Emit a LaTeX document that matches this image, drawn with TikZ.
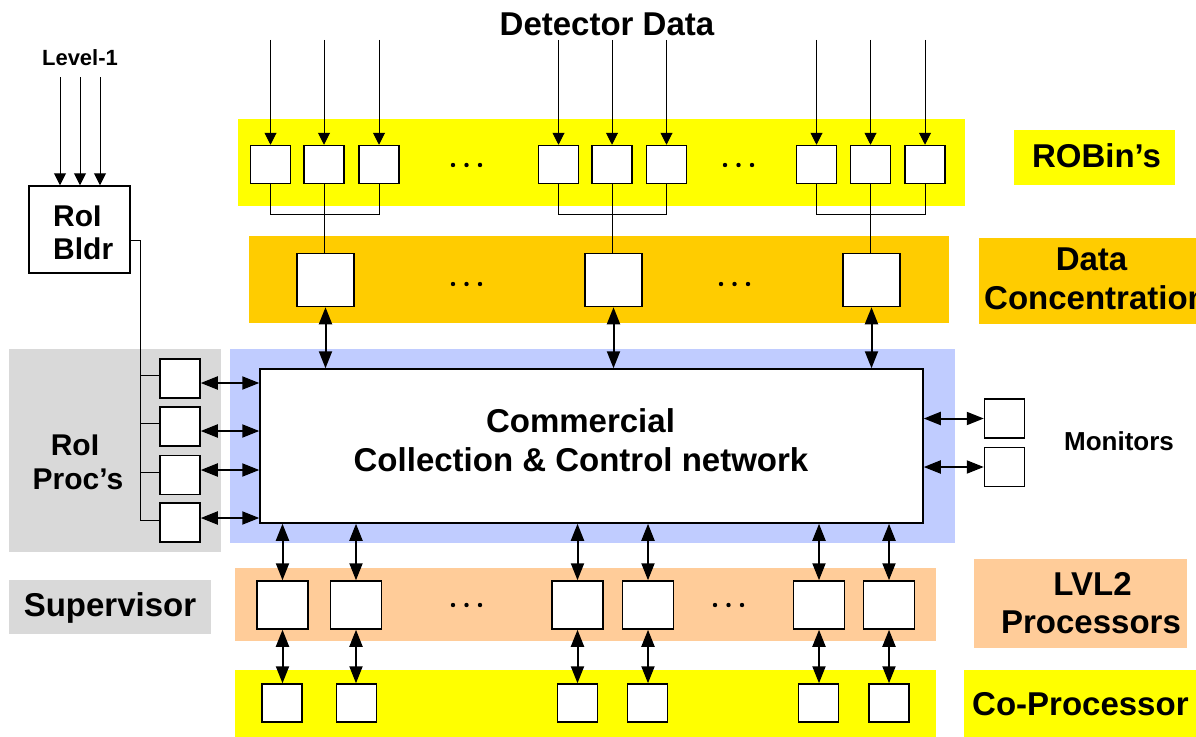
\documentclass[tikz,border=0pt]{standalone}
\usepackage{fontspec}
\setmainfont{Liberation Sans}
\usetikzlibrary{arrows.meta,calc}

\definecolor{robinyel}{RGB}{255,255,0}
\definecolor{dcorange}{RGB}{255,204,0}
\definecolor{netblue}{RGB}{192,204,255}
\definecolor{lvlpeach}{RGB}{255,204,153}
\definecolor{procgray}{RGB}{217,217,217}

\begin{document}
\begin{tikzpicture}[x=1pt,y=-1pt,
  unit/.style={draw=black, fill=white, line width=1.5pt, inner sep=0pt},
  robin/.style={unit, minimum width=40pt, minimum height=38pt},
  conc/.style={unit, minimum width=57pt, minimum height=53pt},
  lvlbox/.style={unit, minimum width=51pt, minimum height=48pt},
  copbox/.style={unit, minimum width=40pt, minimum height=38pt},
  monbox/.style={unit, minimum width=40pt, minimum height=39pt},
  feed/.style={line width=1pt, -{Triangle[length=12pt,width=12pt]}},
  link/.style={line width=1pt},
  duplex/.style={line width=2pt, {Triangle[length=17pt,width=13pt]}-{Triangle[length=17pt,width=13pt]}},
  lbl/.style={font=\bfseries\fontsize{33}{38}\selectfont, inner sep=0pt, anchor=base},
  lblmid/.style={font=\bfseries\fontsize{30}{34}\selectfont, inner sep=0pt, anchor=base},
  lblsmall/.style={font=\bfseries\fontsize{22}{26}\selectfont, inner sep=0pt, anchor=base},
]
\useasboundingbox (0,0) rectangle (1196,736);
\clip (0,0) rectangle (1196,736);

% ---- coloured bands and side labels' backgrounds
\fill[robinyel] (238,119) rectangle (965,206);
\fill[robinyel] (1014,130) rectangle (1175,185);
\fill[dcorange] (249,236) rectangle (949,323);
\fill[dcorange] (979,238) rectangle (1200,324);
\fill[procgray] (9,349) rectangle (221,552);
\fill[netblue] (230,349) rectangle (955,543);
\fill[procgray] (9,580) rectangle (211,634);
\fill[lvlpeach] (235,568) rectangle (936,641);
\fill[lvlpeach] (974,559) rectangle (1187,648);
\fill[robinyel] (235,670) rectangle (936,740);
\fill[robinyel] (964,670) rectangle (1200,740);

% ---- labels
\node[lbl] (detdata) at (607,35) {Detector Data};
\node[lblsmall] (lvlone) at (80,65) {Level-1};
\node[lbl] (robinlbl) at (1096.5,167) {ROBin’s};
\node[lbl] (dclblA) at (1091.5,270) {Data};
\node[lbl, anchor=base west] (dclblB) at (984,309) {Concentration};
\node[lbl] (lvllblA) at (1092.5,595) {LVL2};
\node[lbl] (lvllblB) at (1091,633) {Processors};
\node[lbl, anchor=base west] (coplbl) at (972,715) {Co-Processor};
\node[lbl] (suplbl) at (110,616) {Supervisor};
\node[lblmid] (proclblA) at (75,455) {RoI};
\node[lblmid] (proclblB) at (78,489) {Proc’s};
\node[font=\bfseries\fontsize{26}{30}\selectfont, inner sep=0pt, anchor=base] (monlbl) at (1119,450) {Monitors};

% ---- RoI builder
\node[unit, minimum width=101pt, minimum height=87pt] (bldr) at (79.5,229.5) {};
\node[lblmid, anchor=base west] (bldrA) at (53,226) {RoI};
\node[lblmid, anchor=base west] (bldrB) at (53,259) {Bldr};
\foreach \x [count=\i] in {60,80,100} {
  \coordinate (lvlsrc\i) at (\x,77);
  \draw[feed] (lvlsrc\i) -- (lvlsrc\i |- bldr.north);
}

% ---- ROBins
\foreach \n/\x in {11/270.5,12/324,13/379,21/558.5,22/612,23/666.5,31/816.5,32/870.5,33/925}
  \node[robin] (r\n) at (\x,164.5) {};
\foreach \n in {11,12,13,21,22,23,31,32,33} {
  \coordinate (dsrc\n) at ($(r\n.north)+(0,-105)$);
  \draw[feed] (dsrc\n) -- (r\n.north);
}

% ---- data concentrators
\node[conc] (d1) at (325.5,280) {};
\node[conc] (d2) at (613.5,280) {};
\node[conc] (d3) at (871.5,280) {};
\foreach \g in {1,2,3} {
  \draw[link] (r\g1.south) -- (r\g1.south |- 0,214) -| (r\g3.south);
  \draw[link] (r\g2.south) -- (r\g2.south |- d\g.north);
}

% ---- central network
\node[unit, minimum width=663pt, minimum height=154pt] (net) at (591.5,446) {};
\node[lbl] (netlblA) at (580.5,432) {Commercial};
\node[lbl] (netlblB) at (581,471) {Collection \& Control network};
\foreach \g in {1,2,3}
  \draw[duplex] (d\g.south) -- (d\g.south |- net.north);

% ---- RoI processors
\node[monbox] (p1) at (180,378.5) {};
\node[monbox] (p2) at (180,426.5) {};
\node[monbox] (p3) at (180,475) {};
\node[monbox] (p4) at (180,522.5) {};
\draw[link] ([yshift=-10.5pt]bldr.east) -- ++(10,0) coordinate (spine) |- ([yshift=2.5pt]p4.west);
\foreach \p in {p1,p2,p3}
  \draw[link] ([yshift=3pt]\p.west -| spine) -- ([yshift=3pt]\p.west);
\foreach \p/\s in {p1/-4.5,p2/-4.5,p3/5,p4/4.5}
  \draw[duplex] ([yshift=\s pt]\p.east) -- ([yshift=\s pt]\p.east -| net.west);

% ---- monitors
\node[monbox] (m1) at (1004.5,418.5) {};
\node[monbox] (m2) at (1004.5,467) {};
\foreach \m in {m1,m2}
  \draw[duplex] (net.east |- \m.west) -- (\m.west);

% ---- LVL2 processors and co-processors
\foreach \n/\x in {1/282.5,2/356,3/577.5,4/648,5/819,6/889}
  \node[lvlbox] (l\n) at (\x,605) {};
\foreach \n/\x in {1/282,2/356.5,3/577.5,4/647.5,5/818.5,6/889}
  \node[copbox] (c\n) at (\x,703) {};
\foreach \n in {1,...,6} {
  \draw[duplex] (l\n.north |- net.south) -- (l\n.north);
  \draw[duplex] (l\n.south) -- (l\n.south |- c\n.north);
}

% ---- ellipses between groups
\foreach \x/\y in {453/165,466.5/165,480/165,725/165,738.5/165,752/165,
                   453/284,466.5/284,480/284,721/284,734.5/284,748/284,
                   453/605,466.5/605,480/605,715/605,728.5/605,742/605}
  \fill (\x,\y) circle[radius=2.2pt];
\end{tikzpicture}
\end{document}
